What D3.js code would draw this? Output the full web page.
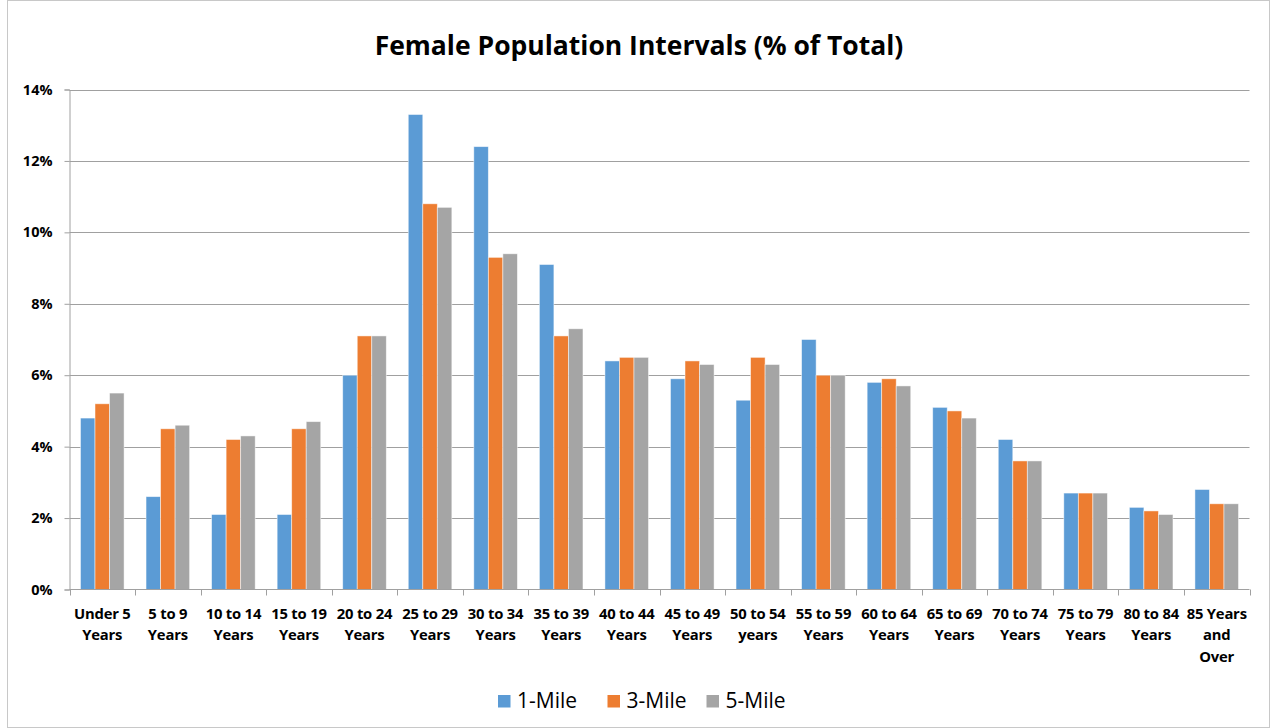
<!DOCTYPE html>
<html><head><meta charset="utf-8">
<script src="https://cdn.jsdelivr.net/npm/d3@7"></script>
<style>body{margin:0;background:#fff;}svg{display:block;}</style>
</head><body>
<svg id="c" width="1271" height="728"></svg>
<script>
const categories = [
  ["Under 5","Years"],["5 to 9","Years"],["10 to 14","Years"],["15 to 19","Years"],
  ["20 to 24","Years"],["25 to 29","Years"],["30 to 34","Years"],["35 to 39","Years"],
  ["40 to 44","Years"],["45 to 49","Years"],["50 to 54","years"],["55 to 59","Years"],
  ["60 to 64","Years"],["65 to 69","Years"],["70 to 74","Years"],["75 to 79","Years"],
  ["80 to 84","Years"],["85 Years","and","Over"]
];
const seriesNames = ["1-Mile","3-Mile","5-Mile"];
const mile1 = [4.8,2.6,2.1,2.1,6.0,13.3,12.4,9.1,6.4,5.9,5.3,7.0,5.8,5.1,4.2,2.7,2.3,2.8];
const mile3 = [5.2,4.5,4.2,4.5,7.1,10.8,9.3,7.1,6.5,6.4,6.5,6.0,5.9,5.0,3.6,2.7,2.2,2.4];
const mile5 = [5.5,4.6,4.3,4.7,7.1,10.7,9.4,7.3,6.5,6.3,6.3,6.0,5.7,4.8,3.6,2.7,2.1,2.4];
const yTicks = [0,2,4,6,8,10,12,14];
const colors = ["#5B9BD5","#ED7D31","#A5A5A5"];
const title = "Female Population Intervals (% of Total)";

(function(){
const series = [mile1, mile3, mile5];
const svg = d3.select("#c");
const font = "'Open Sans','Liberation Sans',sans-serif";

svg.append("rect").attr("x",7.5).attr("y",0.5).attr("width",1262).attr("height",727)
  .attr("fill","#fff").attr("stroke","#c8c8c8").attr("stroke-width",1);

const pL = 69.5, pR = 1249.5, pT = 89.5, pB = 589.5;
const idx = d3.range(categories.length);
const x = d3.scaleBand().domain(idx).range([pL, pR]).paddingInner(0.335).paddingOuter(0.1675);
const xs = d3.scaleBand().domain(d3.range(series.length)).range([0, x.bandwidth()]);
const y = d3.scaleLinear().domain([0,14]).range([pB, pT]);

svg.append("text").attr("x",639).attr("y",55).attr("text-anchor","middle")
  .attr("font-family",font).attr("font-weight","bold").attr("font-size",26.5).attr("fill","#000")
  .text(title);

svg.append("g").selectAll("line").data(yTicks.filter(d=>d>0)).join("line")
  .attr("x1",pL).attr("x2",pR).attr("y1",d=>Math.round(y(d))+0.5).attr("y2",d=>Math.round(y(d))+0.5)
  .attr("stroke","#a0a0a0").attr("stroke-width",1);

const yAxis = d3.axisLeft(y).tickValues(yTicks).tickFormat(d=>d+"%").tickSize(5).tickPadding(12);
const yg = svg.append("g").attr("transform",`translate(${pL},0)`).call(yAxis);
yg.selectAll("path,line").attr("stroke","#a0a0a0");
yg.selectAll("text").attr("font-family",font).attr("font-weight","bold").attr("font-size",14.5).attr("fill","#000");

const groups = svg.append("g").selectAll("g").data(series).join("g").attr("fill",(d,i)=>colors[i]);
groups.each(function(vals, si){
  d3.select(this).selectAll("rect").data(vals).join("rect")
    .attr("x",(v,i)=>x(i)+xs(si))
    .attr("y",v=>y(v))
    .attr("width",xs.bandwidth())
    .attr("height",v=>y(0)-y(v))
    .attr("stroke","#ffffff").attr("stroke-opacity",0.6).attr("stroke-width",0.8);
});

svg.append("line").attr("x1",pL).attr("x2",pR).attr("y1",pB).attr("y2",pB).attr("stroke","#a0a0a0");
const step = x.step();
svg.append("g").selectAll("line").data(d3.range(categories.length+1)).join("line")
  .attr("x1",d=>Math.round(pL+d*step)+0.5).attr("x2",d=>Math.round(pL+d*step)+0.5)
  .attr("y1",pB).attr("y2",pB+6).attr("stroke","#a0a0a0");

const xl = svg.append("g").selectAll("text").data(categories).join("text")
  .attr("x",(d,i)=>x(i)+x.bandwidth()/2).attr("y",618.5)
  .attr("text-anchor","middle").attr("font-family",font).attr("font-weight","bold")
  .attr("font-size",14.8).attr("letter-spacing",-0.2).attr("fill","#000");
xl.each(function(lines){
  const t = d3.select(this);
  t.selectAll("tspan").data(lines).join("tspan")
    .attr("x",t.attr("x")).attr("dy",(d,i)=>i===0?0:21.7).text(d=>d);
});

const legX = [498, 607.5, 706.5];
const lg = svg.append("g").selectAll("g").data(seriesNames).join("g")
  .attr("transform",(d,i)=>`translate(${legX[i]},695)`);
lg.append("rect").attr("width",12.5).attr("height",12.5).attr("fill",(d,i)=>colors[i]);
lg.append("text").attr("x",19).attr("y",13).attr("font-family",font).attr("font-size",21).attr("fill","#000").text(d=>d);
})();
</script>
</body></html>
